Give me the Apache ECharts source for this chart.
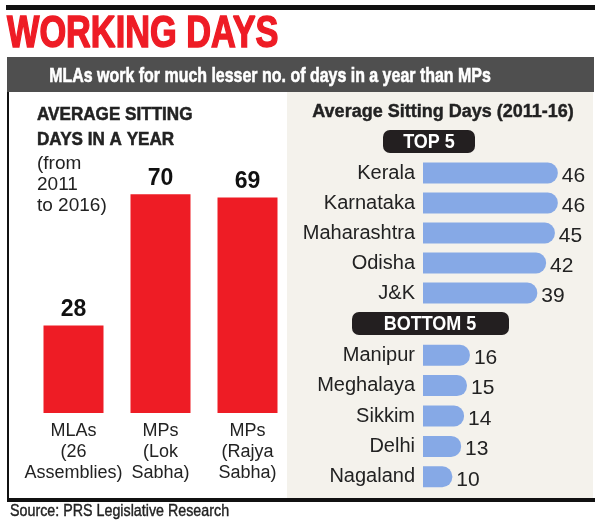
<!DOCTYPE html>
<html>
<head>
<meta charset="utf-8">
<script src="https://cdn.jsdelivr.net/npm/echarts@6/dist/echarts.min.js"></script>
<style>
  html, body { margin: 0; padding: 0; background: #fff; }
  #chart { width: 600px; height: 521px; }
</style>
</head>
<body>
<div id="chart"></div>
<script>
// left chart: average sitting days in a year
const houseLabels = ['MLAs\n(26\nAssemblies)', 'MPs\n(Lok\nSabha)', 'MPs\n(Rajya\nSabha)'];
const houseDays = [28, 70, 69];

// right chart: top 5 / bottom 5 states
const topStates = ['Kerala', 'Karnataka', 'Maharashtra', 'Odisha', 'J&K'];
const topDays = [46, 46, 45, 42, 39];
const bottomStates = ['Manipur', 'Meghalaya', 'Sikkim', 'Delhi', 'Nagaland'];
const bottomDays = [16, 15, 14, 13, 10];

const RED = '#ee1c25';
const BLUE = '#86a9e6';
const INK = '#222';
const SANS = '"Liberation Sans", Arial, sans-serif';

const chart = echarts.init(document.getElementById('chart'), null, { renderer: 'canvas' });

// helpers for the two state grids on the right
function stateYAxis(gridIndex, cats) {
  return {
    type: 'category', gridIndex: gridIndex, data: cats, inverse: true,
    axisLine: { show: false }, axisTick: { show: false },
    axisLabel: { color: INK, fontFamily: SANS, fontSize: 20, margin: 8 }
  };
}
function stateXAxis(gridIndex) {
  return { type: 'value', gridIndex: gridIndex, min: 0, max: 50, show: false };
}
function stateSeries(idx, values) {
  return {
    type: 'bar', xAxisIndex: idx, yAxisIndex: idx, data: values,
    barWidth: 21, silent: true,
    itemStyle: { color: BLUE, borderRadius: [0, 10, 10, 0] },
    label: {
      show: true, position: 'right', distance: 4, offset: [0, 3],
      color: INK, fontFamily: SANS, fontSize: 21
    }
  };
}

// condensed-looking text: normal font squeezed horizontally, optional stroke to fatten it
function squeezed(text, x, y, font, fill, sx, align, fat) {
  return {
    type: 'text', x: x, y: y, scaleX: sx,
    style: {
      text: text, fill: fill, font: font, align: align || 'left', verticalAlign: 'middle',
      stroke: fat ? fill : null, lineWidth: fat || 0
    }
  };
}

const option = {
  animation: false,
  backgroundColor: '#fff',
  graphic: [
    // beige panel behind the right chart
    { type: 'rect', z: -10, shape: { x: 287, y: 92, width: 306, height: 406 }, style: { fill: '#f4f2ec' } },
    // frame lines
    { type: 'rect', shape: { x: 6, y: 5, width: 589, height: 5 }, style: { fill: '#111' } },
    { type: 'rect', shape: { x: 7, y: 57, width: 587, height: 35 }, style: { fill: '#4f4f4f' } },
    { type: 'rect', shape: { x: 7, y: 92, width: 2, height: 408 }, style: { fill: '#111' } },
    { type: 'rect', shape: { x: 7, y: 498, width: 588, height: 4 }, style: { fill: '#111' } },
    // headline
    squeezed('WORKING DAYS', 7, 35, 'bold 44px ' + SANS, RED, 0.78, 'left', 1.5),
    squeezed('MLAs work for much lesser no. of days in a year than MPs', 270, 76, 'bold 21px ' + SANS, '#fff', 0.76, 'center', 0.6),
    // left chart caption
    { type: 'text', x: 37, y: 103, scaleX: 0.95, style: { text: 'AVERAGE SITTING\nDAYS IN A YEAR', fill: INK, stroke: INK, lineWidth: 0.5, font: 'bold 18px ' + SANS, lineHeight: 25 } },
    { type: 'text', x: 37, y: 153, style: { text: '(from\n2011\nto 2016)', fill: INK, font: '19px ' + SANS, lineHeight: 21 } },
    // right chart caption + section tags
    { type: 'text', x: 443, y: 112, style: { text: 'Average Sitting Days (2011-16)', fill: INK, stroke: INK, lineWidth: 0.4, font: 'bold 18px ' + SANS, align: 'center', verticalAlign: 'middle' } },
    { type: 'rect', shape: { x: 383, y: 130, width: 92, height: 23, r: 7 }, style: { fill: '#231f20' } },
    squeezed('TOP 5', 429, 142, 'bold 20px ' + SANS, '#fff', 0.9, 'center'),
    { type: 'rect', shape: { x: 352, y: 312, width: 157, height: 23, r: 7 }, style: { fill: '#231f20' } },
    squeezed('BOTTOM 5', 430, 324, 'bold 20px ' + SANS, '#fff', 0.9, 'center'),
    // source
    squeezed('Source: PRS Legislative Research', 10, 511, '17px ' + SANS, INK, 0.84, 'left', 0.4)
  ],
  grid: [
    { left: 30, top: 163, width: 261, height: 250 },
    { left: 423, top: 158, width: 146.5, height: 150 },
    { left: 423, top: 340, width: 146.5, height: 152 }
  ],
  xAxis: [
    {
      type: 'category', gridIndex: 0, data: houseLabels,
      axisLine: { show: false }, axisTick: { show: false },
      axisLabel: { color: INK, fontFamily: SANS, fontSize: 18, lineHeight: 21, margin: 8, interval: 0 }
    },
    stateXAxis(1),
    stateXAxis(2)
  ],
  yAxis: [
    { type: 'value', gridIndex: 0, min: 0, max: 80, show: false },
    stateYAxis(1, topStates),
    stateYAxis(2, bottomStates)
  ],
  series: [
    {
      type: 'bar', xAxisIndex: 0, yAxisIndex: 0, data: houseDays,
      barWidth: 60, silent: true,
      itemStyle: { color: RED },
      label: { show: true, position: 'top', distance: 4, color: '#111', fontFamily: SANS, fontWeight: 'bold', fontSize: 23 }
    },
    stateSeries(1, topDays),
    stateSeries(2, bottomDays)
  ]
};

chart.setOption(option);
</script>
</body>
</html>
